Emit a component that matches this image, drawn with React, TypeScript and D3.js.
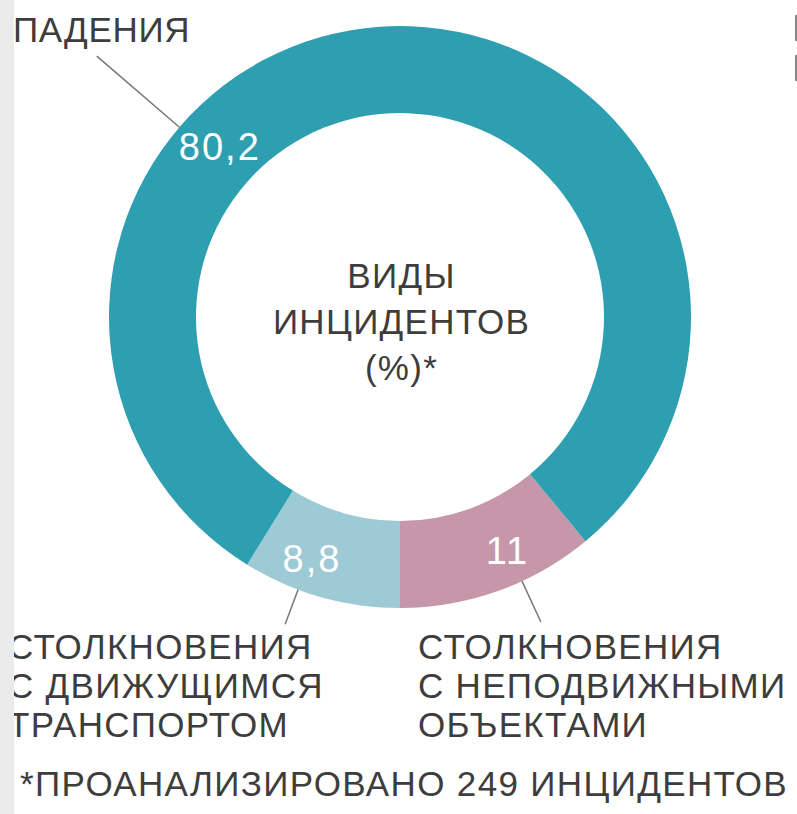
import React, { useEffect, useRef } from 'react';
import * as d3 from 'd3';

// slices go clockwise from the boundary at the lower right
const categories = ['СТОЛКНОВЕНИЯ С НЕПОДВИЖНЫМИ ОБЪЕКТАМИ', 'СТОЛКНОВЕНИЯ С ДВИЖУЩИМСЯ ТРАНСПОРТОМ', 'ПАДЕНИЯ'];
const values = [11, 8.8, 80.2];
const valueLabels = ['11', '8,8', '80,2'];
const categoryLines = [
  ['СТОЛКНОВЕНИЯ', 'С НЕПОДВИЖНЫМИ', 'ОБЪЕКТАМИ'],
  ['СТОЛКНОВЕНИЯ', 'С ДВИЖУЩИМСЯ', 'ТРАНСПОРТОМ'],
  ['ПАДЕНИЯ'],
];
const centerLines = ['ВИДЫ', 'ИНЦИДЕНТОВ', '(%)*'];
const footnote = '*ПРОАНАЛИЗИРОВАНО 249 ИНЦИДЕНТОВ';

const colors = ['#c697a9', '#9dcad5', '#2e9fb0'];
// where inside each slice the leader and the number sit (0..1 of the slice angle)
const leaderFrac = [0.374, 0.647, 0.343];
const labelFrac = [0.38, 0.64, 0.352];
const labelRadius = [256, 257, 249];
const leaderOut = [336, 328, 400];

const W = 797;
const H = 814;
const cx = 400;
const cy = 317;
const outerR = 291;
const innerR = 204;
const font = '"Liberation Sans", Arial, sans-serif';
const textColor = '#3d3d3d';

const App = () => {
  const ref = useRef<SVGSVGElement>(null);

  useEffect(() => {
    const svg = d3.select(ref.current);
    svg.selectAll('*').remove();

    svg.append('rect').attr('width', W).attr('height', H).attr('fill', '#fff');

    const start = Math.PI - (values[0] / d3.sum(values)) * 2 * Math.PI;
    const pie = d3.pie<number>().sort(null).value(d => d)
      .startAngle(start)
      .endAngle(start + 2 * Math.PI);
    const arcs = pie(values);
    const arc = d3.arc<d3.PieArcDatum<number>>().innerRadius(innerR).outerRadius(outerR);

    const g = svg.append('g').attr('transform', `translate(${cx},${cy})`);

    g.selectAll('path.slice')
      .data(arcs)
      .enter()
      .append('path')
      .attr('class', 'slice')
      .attr('d', arc)
      .attr('fill', (d, i) => colors[i]);

    const polar = (a: number, r: number) => [r * Math.sin(a), -r * Math.cos(a)];

    arcs.forEach((d, i) => {
      const span = d.endAngle - d.startAngle;
      const a = d.startAngle + span * leaderFrac[i];
      const [x1, y1] = polar(a, outerR);
      const [x2, y2] = polar(a, leaderOut[i]);
      g.append('line')
        .attr('x1', x1).attr('y1', y1)
        .attr('x2', x2).attr('y2', y2)
        .attr('stroke', '#777')
        .attr('stroke-width', 1.5);

      const [lx, ly] = polar(d.startAngle + span * labelFrac[i], labelRadius[i]);
      g.append('text')
        .attr('x', lx + 1)
        .attr('y', ly)
        .attr('dy', '0.36em')
        .attr('text-anchor', 'middle')
        .attr('font-family', font)
        .attr('font-size', 38)
        .attr('letter-spacing', 2)
        .attr('fill', '#fff')
        .text(valueLabels[i]);
    });

    // centre title
    centerLines.forEach((t, i) => {
      g.append('text')
        .attr('x', 1.5)
        .attr('y', -29 + i * 46)
        .attr('text-anchor', 'middle')
        .attr('font-family', font)
        .attr('font-size', 35)
        .attr('letter-spacing', 1.3)
        .attr('fill', textColor)
        .text(t);
    });

    // category labels
    const labelPos = [
      { x: 418, y: 659 },
      { x: 8, y: 659 },
      { x: 13, y: 42 },
    ];
    const labelSpacing = [1.3, 1.3, 0.7];
    categoryLines.forEach((lines, i) => {
      const t = svg.append('text')
        .attr('font-family', font)
        .attr('font-size', 35)
        .attr('letter-spacing', labelSpacing[i])
        .attr('fill', textColor)
        .attr('aria-label', categories[i]);
      lines.forEach((line, j) => {
        t.append('tspan')
          .attr('x', labelPos[i].x)
          .attr('y', labelPos[i].y + j * 39)
          .text(line);
      });
    });

    svg.append('text')
      .attr('x', 20)
      .attr('y', 796)
      .attr('font-family', font)
      .attr('font-size', 35)
      .attr('letter-spacing', 1.35)
      .attr('fill', textColor)
      .text(footnote);

    // grey strip on the left edge of the crop
    svg.append('rect').attr('x', 0).attr('y', 0).attr('width', 14).attr('height', H).attr('fill', '#ebebeb');
    // cut-off letters on the right edge
    svg.append('rect').attr('x', 795).attr('y', 15).attr('width', 2).attr('height', 26).attr('fill', '#888');
    svg.append('rect').attr('x', 795).attr('y', 55).attr('width', 2).attr('height', 26).attr('fill', '#888');
  }, []);

  return <svg ref={ref} width={W} height={H} style={{ position: 'absolute', left: 0, top: 0 }} />;
};

export default App;
